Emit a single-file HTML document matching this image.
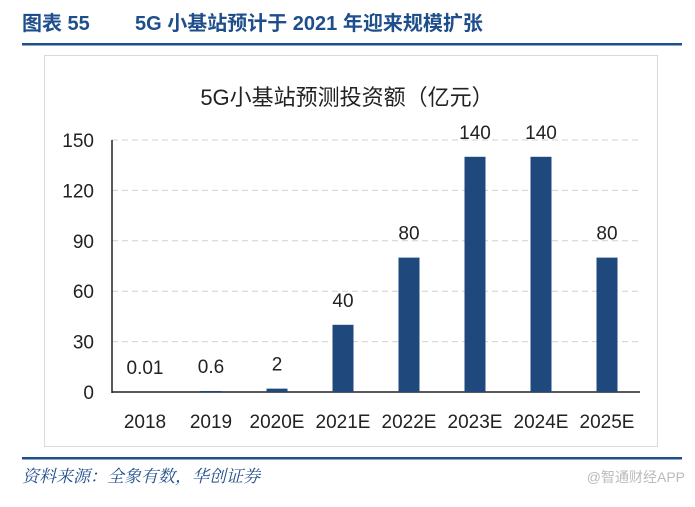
<!DOCTYPE html>
<html><head><meta charset="utf-8"><style>
body{margin:0;background:#fff;width:695px;height:502px;overflow:hidden;font-family:"Liberation Sans","Noto Sans CJK SC",sans-serif}
</style></head><body>
<svg width="695" height="502" xmlns="http://www.w3.org/2000/svg">
<text x="22" y="30" font-size="20" fill="#1f4e8c" font-family="'Liberation Sans','Noto Sans CJK SC',sans-serif" font-weight="bold">图表 55<tspan x="135">5G 小基站预计于 2021 年迎来规模扩张</tspan></text>
<rect x="22" y="43" width="660" height="2.5" fill="#1f4e8c"/>
<rect x="44.5" y="55.5" width="613" height="391" fill="#fff" stroke="#d9d9d9"/>
<text x="347" y="105" font-size="22" text-anchor="middle" fill="#222" font-family="'Liberation Sans','Noto Sans CJK SC',sans-serif">5G小基站预测投资额（亿元）</text>
<g id="grid"></g><g id="bars"></g><g id="labels"></g>
<rect x="22" y="457" width="660" height="2.5" fill="#1f4e8c"/>
<text x="22" y="482" font-size="17" font-style="italic" fill="#1f4e8c" font-family="'Liberation Serif','Noto Serif CJK SC',serif">资料来源：全象有数，华创证券</text>
<text x="685" y="482" font-size="14" text-anchor="end" fill="#bbb" font-family="'Liberation Sans','Noto Sans CJK SC',sans-serif">@智通财经APP</text>
</svg>
<script>
const categories=["2018","2019","2020E","2021E","2022E","2023E","2024E","2025E"];
const values=[0.01,0.6,2,40,80,140,140,80];
const valueLabels=["0.01","0.6","2","40","80","140","140","80"];
const yTicks=[0,30,60,90,120,150];
const NS="http://www.w3.org/2000/svg";
const x0=112,x1=640,yBase=392,yTop=140,yMax=150;
const band=(x1-x0)/categories.length;
const y=v=>yBase-(v/yMax)*(yBase-yTop);
const xc=i=>x0+band*(i+0.5);
function mk(tag,attrs,parent){const e=document.createElementNS(NS,tag);for(const k in attrs)e.setAttribute(k,attrs[k]);document.getElementById(parent).appendChild(e);return e;}
const F="'Liberation Sans','Noto Sans CJK SC',sans-serif";
yTicks.forEach(t=>{
  if(t>0){const l=mk('line',{x1:x0,x2:x1,y1:y(t),y2:y(t),stroke:'#d0d0d0','stroke-dasharray':'6,4','stroke-width':1},'grid');
  
  }
  const tx=mk('text',{x:x0-18,y:y(t)+7,'font-size':19,'text-anchor':'end',fill:'#222','font-family':F},'grid');tx.textContent=t;
  
  
});
const ax=mk('line',{x1:x0,x2:x0,y1:yTop,y2:yBase+1,stroke:'#222','stroke-width':1.5},'grid');


const bx=mk('line',{x1:x0,x2:x1,y1:yBase,y2:yBase,stroke:'#222','stroke-width':1.5},'grid');


const bw=21;
categories.forEach((c,i)=>{
  const r=mk('rect',{x:xc(i)-bw/2,y:y(values[i]),width:bw,height:yBase-y(values[i]),fill:'#1f497d'},'bars');
  
  
  const vl=mk('text',{x:xc(i),y:y(values[i])-18,'font-size':19,'text-anchor':'middle',fill:'#222','font-family':F},'labels');vl.textContent=valueLabels[i];
  
  
  const xl=mk('text',{x:xc(i),y:428,'font-size':19,'text-anchor':'middle',fill:'#222','font-family':F},'labels');xl.textContent=c;
  
  
});
</script>
</body></html>
